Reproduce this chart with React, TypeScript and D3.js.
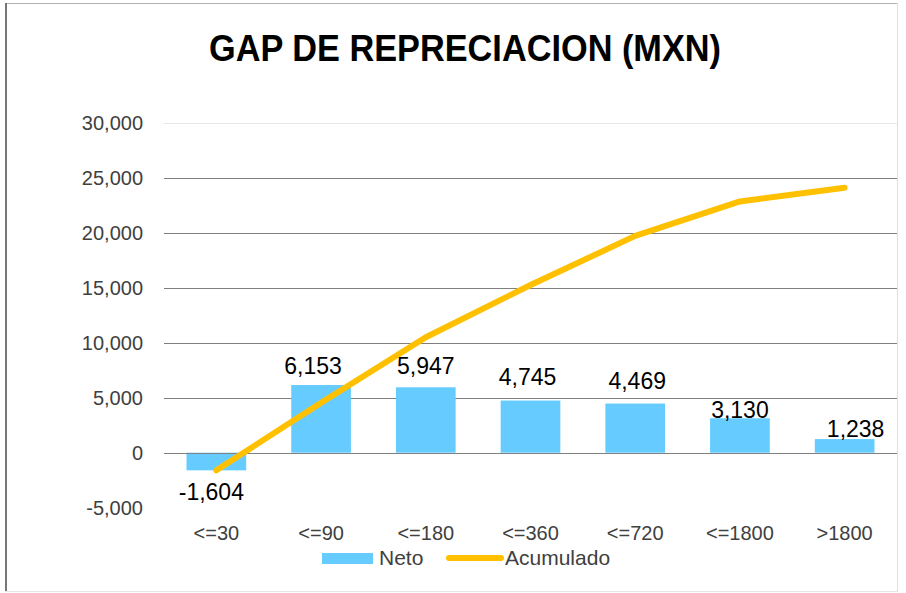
import React from "react";
import * as d3 from "d3";

const categories = ["<=30", "<=90", "<=180", "<=360", "<=720", "<=1800", ">1800"];
const neto = [-1604, 6153, 5947, 4745, 4469, 3130, 1238];
const acumulado = [-1604, 4549, 10496, 15241, 19710, 22840, 24078];
const yTicks = [-5000, 0, 5000, 10000, 15000, 20000, 25000, 30000];
const title = "GAP DE REPRECIACION (MXN)";
const seriesNames = ["Neto", "Acumulado"];

// label nudges (styling only, pixels relative to bar end)
const labelDx = [-5, -8, 0, -3, 2, 0, 11];
const labelDy = [30, -11, -13, -16, -15, 0, -2];

const W = 906;
const H = 593;
const plotLeft = 164;
const plotRight = 897;
const BLUE = "#66CCFF";
const ORANGE = "#FFC000";
const FONT = "'Liberation Sans', Arial, sans-serif";

const fmt = (v: number) => d3.format(",")(v).replace("\u2212", "-");

export default function App() {
  const x = d3
    .scaleBand<string>()
    .domain(categories)
    .range([plotLeft, plotRight])
    .paddingInner(0.43)
    .paddingOuter(0.215);
  const y = d3.scaleLinear().domain([-5000, 30000]).range([507.7, 122.7]);
  const cx = (c: string) => (x(c) as number) + x.bandwidth() / 2;
  const line = d3
    .line<number>()
    .x((_, i) => cx(categories[i]))
    .y((d) => y(d));

  return (
    <svg
      width={W}
      height={H}
      style={{ position: "fixed", left: 0, top: 0, background: "#fff" }}
      fontFamily={FONT}
    >
      <rect x={0} y={0} width={W} height={H} fill="#fff" />
      <line x1={5} x2={898} y1={3.5} y2={3.5} stroke="#b0b0b0" strokeWidth={1} />
      <line x1={6} x2={6} y1={3} y2={592} stroke="#777" strokeWidth={2} />
      <line x1={897.5} x2={897.5} y1={3} y2={592} stroke="#e0e0e0" strokeWidth={1} />
      <line x1={5} x2={898} y1={591.5} y2={591.5} stroke="#e6e6e6" strokeWidth={1} />
      <text
        x={465}
        y={61}
        textAnchor="middle"
        fontSize={37}
        fontWeight="bold"
        fill="#000"
        textLength={512}
        lengthAdjust="spacingAndGlyphs"
      >
        {title}
      </text>
      {yTicks.map((t) => (
        <g key={t}>
          {t > -5000 && t !== 0 && (
            <line
              x1={plotLeft}
              x2={plotRight}
              y1={Math.round(y(t)) + 0.5}
              y2={Math.round(y(t)) + 0.5}
              stroke={t === 30000 ? "#e6e6e6" : "#808080"}
              strokeWidth={1}
            />
          )}
          <text x={143} y={y(t) + 7} textAnchor="end" fontSize={20} fill="#404040">
            {fmt(t)}
          </text>
        </g>
      ))}
      {categories.map((c, i) => {
        const v = neto[i];
        const y0 = y(0);
        const yv = y(v);
        return (
          <rect
            key={c}
            x={x(c)}
            y={Math.min(y0, yv)}
            width={x.bandwidth()}
            height={Math.abs(yv - y0)}
            fill={BLUE}
          />
        );
      })}
      <line
        x1={plotLeft}
        x2={plotRight}
        y1={Math.round(y(0)) + 0.5}
        y2={Math.round(y(0)) + 0.5}
        stroke="#808080"
        strokeWidth={1}
      />
      <path
        d={line(acumulado) || ""}
        fill="none"
        stroke={ORANGE}
        strokeWidth={6}
        strokeLinecap="round"
        strokeLinejoin="round"
      />
      {categories.map((c, i) => {
        const v = neto[i];
        return (
          <text
            key={c}
            x={cx(c) + labelDx[i]}
            y={y(v) + labelDy[i]}
            textAnchor="middle"
            fontSize={23}
            fill="#000"
          >
            {fmt(v)}
          </text>
        );
      })}
      {categories.map((c) => (
        <text key={c} x={cx(c)} y={540} textAnchor="middle" fontSize={20} fill="#404040">
          {c}
        </text>
      ))}
      <rect x={322} y={553} width={51} height={11} fill={BLUE} />
      <text x={379} y={565} fontSize={21} fill="#404040">
        {seriesNames[0]}
      </text>
      <line x1={449} x2={501} y1={558} y2={558} stroke={ORANGE} strokeWidth={6} strokeLinecap="round" />
      <text x={505} y={565} fontSize={21} fill="#404040">
        {seriesNames[1]}
      </text>
    </svg>
  );
}
